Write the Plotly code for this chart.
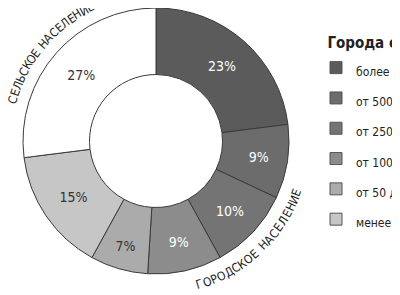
import math
import plotly.graph_objects as go

# ---- data ----
labels = ["более 1 млн", "от 500 тыс. до 1 млн", "от 250 до 500 тыс.",
          "от 100 до 250 тыс.", "от 50 до 100 тыс.", "менее 50 тыс.",
          "Сельское население"]
values = [23, 9, 10, 9, 7, 15, 27]
colors = ["#5b5b5b", "#6c6c6c", "#747474", "#8c8c8c", "#ababab", "#c6c6c6", "#ffffff"]
text_colors = ["#ffffff", "#ffffff", "#ffffff", "#ffffff", "#333333", "#333333", "#333333"]
legend_count = 6  # urban groups shown in the legend
legend_title = "Города с населением"
arc_top = "СЕЛЬСКОЕ НАСЕЛЕНИЕ"
arc_bottom = "ГОРОДСКОЕ НАСЕЛЕНИЕ"

W, H = 400, 295
OFF = 8  # page body margin
FONT = "DejaVu Sans Condensed, Liberation Sans Narrow, Arial Narrow, sans-serif"
R = 133
cx, cy = 156 - OFF, R

legend_labels = ['<span style="font-size:12px">%s</span>' % l for l in labels]

fig = go.Figure()
fig.add_trace(go.Pie(
    labels=legend_labels,
    values=values,
    sort=False,
    direction="clockwise",
    rotation=0,
    hole=0.5,
    marker=dict(colors=colors, line=dict(color="#3a3a3a", width=1)),
    texttemplate="%{value}%",
    textposition="inside",
    insidetextorientation="horizontal",
    insidetextfont=dict(family=FONT, size=14, color=text_colors),
    hoverinfo="skip",
    showlegend=False,
    domain=dict(x=[(cx - R) / W, (cx + R) / W],
                y=[max(0, 1 - (cy + R) / H), min(1, 1 - (cy - R) / H)]),
))
# legend-only companion (urban groups), drawn at negligible size
fig.add_trace(go.Pie(
    labels=legend_labels[:legend_count],
    values=values[:legend_count],
    sort=False,
    marker=dict(colors=colors[:legend_count], line=dict(color="#555555", width=1)),
    textinfo="none",
    hoverinfo="skip",
    showlegend=True,
    domain=dict(x=[0.9995, 1.0], y=[0.0, 0.0005]),
))


def arc_text(text, th0, th1, r, flip):
    anns = []
    wts = [0.55 if ch == " " else 1.0 for ch in text]
    # cumulative centre positions
    pos, acc = [], 0.0
    for w in wts:
        pos.append(acc + w / 2)
        acc += w
    p0, p1 = pos[0], pos[-1]
    for ch, p in zip(text, pos):
        if ch == " ":
            continue
        th = th0 + (th1 - th0) * (p - p0) / (p1 - p0)
        t = math.radians(th)
        x = cx + r * math.sin(t)
        y = cy - r * math.cos(t)
        ang = th - 180 if flip else th
        ang = (ang + 180) % 360 - 180
        anns.append(dict(x=x / W, y=1 - y / H, xref="paper", yref="paper",
                         text=ch, showarrow=False, textangle=ang,
                         xanchor="center", yanchor="middle",
                         font=dict(family=FONT, size=12, color="#222222")))
    return anns


annotations = arc_text(arc_top, 286, 334, 149, False) + arc_text(arc_bottom, 163, 110, 150, True)

fig.update_layout(
    width=W, height=H,
    margin=dict(l=0, r=0, t=0, b=0, autoexpand=False),
    paper_bgcolor="white", plot_bgcolor="white",
    showlegend=True,
    legend=dict(x=308 / W, y=1 - 20 / H, xanchor="left", yanchor="top",
                font=dict(family=FONT, size=21, color="#222222"),
                title=dict(text="&nbsp;&nbsp;" + legend_title,
                           font=dict(family=FONT, size=15, color="#222222", weight="bold")),
                bgcolor="rgba(0,0,0,0)", itemclick=False),
    annotations=annotations,
)

fig.write_html("out.html")
